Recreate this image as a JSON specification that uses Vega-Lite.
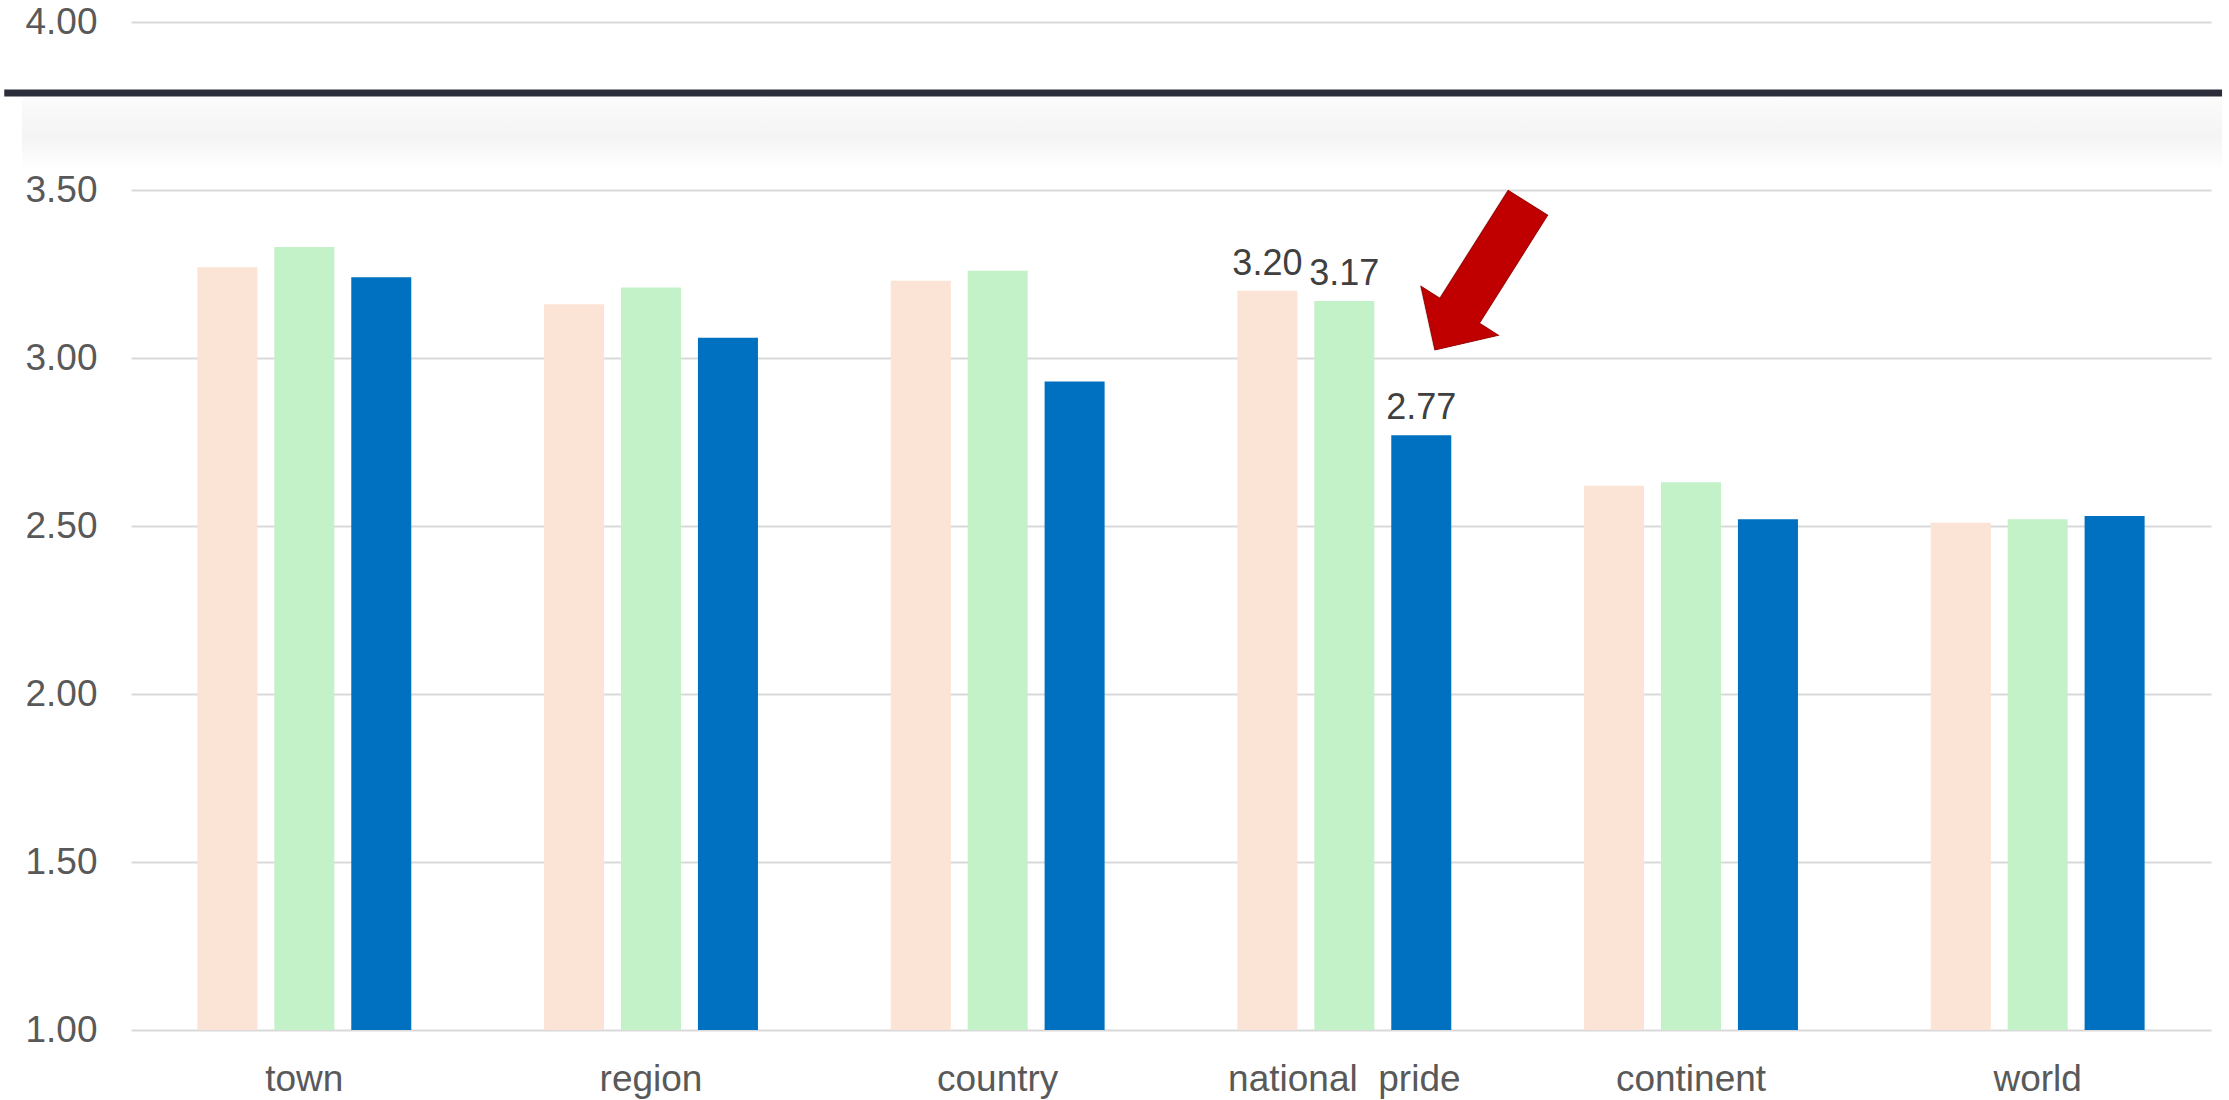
{
  "$schema": "https://vega.github.io/schema/vega-lite/v6.json",
  "width": 2080,
  "height": 1008,
  "autosize": {"type": "none"},
  "padding": {"left": 131, "top": 22, "right": 18, "bottom": 70},
  "background": "white",
  "config": {"view": {"stroke": null}, "font": "Liberation Sans"},
  "datasets": {
    "bars": [
      {"category": "town", "series": "Series 1", "value": 3.27},
      {"category": "town", "series": "Series 2", "value": 3.33},
      {"category": "town", "series": "Series 3", "value": 3.24},
      {"category": "region", "series": "Series 1", "value": 3.16},
      {"category": "region", "series": "Series 2", "value": 3.21},
      {"category": "region", "series": "Series 3", "value": 3.06},
      {"category": "country", "series": "Series 1", "value": 3.23},
      {"category": "country", "series": "Series 2", "value": 3.26},
      {"category": "country", "series": "Series 3", "value": 2.93},
      {"category": "national\u00a0 pride", "series": "Series 1", "value": 3.20, "label": true},
      {"category": "national\u00a0 pride", "series": "Series 2", "value": 3.17, "label": true},
      {"category": "national\u00a0 pride", "series": "Series 3", "value": 2.77, "label": true},
      {"category": "continent", "series": "Series 1", "value": 2.62},
      {"category": "continent", "series": "Series 2", "value": 2.63},
      {"category": "continent", "series": "Series 3", "value": 2.52},
      {"category": "world", "series": "Series 1", "value": 2.51},
      {"category": "world", "series": "Series 2", "value": 2.52},
      {"category": "world", "series": "Series 3", "value": 2.53}
    ],
    "arrow": [{"category": "national\u00a0 pride", "value": 3.243}]
  },
  "layer": [
    {
      "data": {"values": [{"top": 3.775, "bottom": 3.56}]},
      "mark": {
        "type": "rect",
        "color": {
          "gradient": "linear", "x1": 0, "y1": 0, "x2": 0, "y2": 1,
          "stops": [
            {"offset": 0, "color": "#fbfbfb"},
            {"offset": 0.55, "color": "#f4f4f4"},
            {"offset": 1, "color": "#ffffff"}
          ]
        }
      },
      "encoding": {
        "x": {"datum": "town", "type": "nominal", "bandPosition": -0.82},
        "x2": {"datum": "world", "bandPosition": 1.362},
        "y": {"field": "top", "type": "quantitative"},
        "y2": {"field": "bottom"}
      }
    },
    {
      "data": {"values": [{"y": 3.789}]},
      "mark": {"type": "rule", "color": "#2B2D3B", "strokeWidth": 7},
      "encoding": {
        "x": {"datum": "town", "type": "nominal", "bandPosition": -0.903},
        "x2": {"datum": "world", "bandPosition": 1.362},
        "y": {"field": "y", "type": "quantitative"}
      }
    },
    {
      "data": {"name": "bars"},
      "mark": {"type": "bar"},
      "encoding": {
        "x": {
          "field": "category", "type": "nominal",
          "sort": ["town", "region", "country", "national\u00a0 pride", "continent", "world"],
          "scale": {"domain": ["town", "region", "country", "national\u00a0 pride", "continent", "world"], "paddingInner": 0.383, "paddingOuter": 0.1915},
          "axis": {
            "title": null, "domain": false, "ticks": false, "grid": false,
            "labelAngle": 0, "labelAlign": "center", "labelFontSize": 37, "labelColor": "#595959",
            "labelPadding": 60, "labelBaseline": "alphabetic", "labelFont": "Liberation Sans",
            "labelLimit": 0
          }
        },
        "xOffset": {
          "field": "series", "type": "nominal",
          "sort": ["Series 1", "Series 2", "Series 3"],
          "scale": {"paddingInner": 0.22, "paddingOuter": 0}
        },
        "y": {
          "field": "value", "type": "quantitative",
          "scale": {"domain": [1, 4], "zero": false, "nice": false},
          "axis": {
            "title": null, "domain": false, "ticks": false, "grid": true,
            "gridColor": "#d9d9d9", "gridWidth": 2,
            "values": [1, 1.5, 2, 2.5, 3, 3.5, 4], "format": ".2f",
            "labelFontSize": 37, "labelColor": "#595959", "labelPadding": 34,
            "labelFont": "Liberation Sans"
          }
        },
        "y2": {"datum": 1},
        "color": {
          "field": "series", "type": "nominal",
          "scale": {"domain": ["Series 1", "Series 2", "Series 3"], "range": ["#FBE3D6", "#C3F1C8", "#0070C0"]},
          "legend": null
        }
      }
    },
    {
      "data": {"name": "bars"},
      "transform": [{"filter": "datum.label === true"}],
      "mark": {"type": "text", "fontSize": 36, "color": "#404040", "baseline": "alphabetic", "dy": -16, "font": "Liberation Sans"},
      "encoding": {
        "x": {"field": "category", "type": "nominal", "sort": ["town", "region", "country", "national\u00a0 pride", "continent", "world"]},
        "xOffset": {"field": "series", "type": "nominal", "sort": ["Series 1", "Series 2", "Series 3"]},
        "y": {"field": "value", "type": "quantitative"},
        "text": {"field": "value", "type": "quantitative", "format": ".2f"}
      }
    },
    {
      "data": {"name": "arrow"},
      "mark": {
        "type": "point",
        "shape": "M0,-1L0.526,-0.468L0.268,-0.468L0.268,1L-0.268,1L-0.268,-0.468L-0.526,-0.468Z",
        "size": 30276, "angle": 212.3, "filled": true,
        "fill": "#000000", "opacity": 0.12
      },
      "encoding": {
        "x": {"field": "category", "type": "nominal", "bandPosition": 1.135},
        "y": {"field": "value", "type": "quantitative", "scale": {"domain": [1, 4]}},
        "yOffset": {"value": 0}
      }
    },
    {
      "data": {"name": "arrow"},
      "mark": {
        "type": "point",
        "shape": "M0,-1L0.526,-0.468L0.268,-0.468L0.268,1L-0.268,1L-0.268,-0.468L-0.526,-0.468Z",
        "size": 30276, "angle": 212.3, "filled": true,
        "fill": "#C00000", "stroke": "#9A0000", "strokeWidth": 1, "opacity": 1
      },
      "encoding": {
        "x": {"field": "category", "type": "nominal", "bandPosition": 1.141},
        "y": {"field": "value", "type": "quantitative"}
      }
    }
  ]
}
